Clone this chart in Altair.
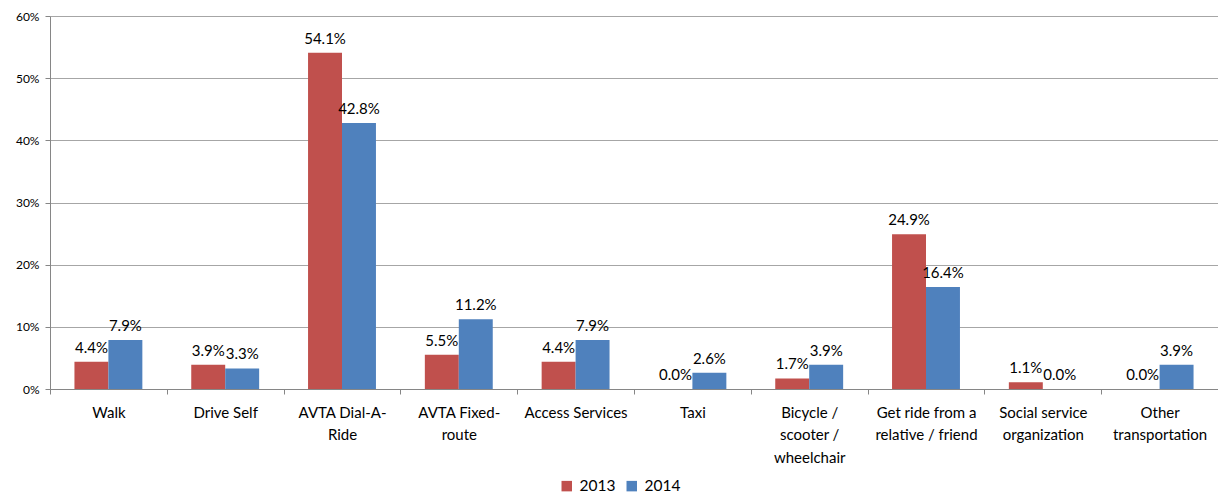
import altair as alt
import pandas as pd

categories = ["Walk", "Drive Self", "AVTA Dial-A-|Ride", "AVTA Fixed-|route",
              "Access Services", "Taxi", "Bicycle /|scooter /|wheelchair",
              "Get ride from a|relative / friend", "Social service|organization",
              "Other|transportation"]
years = ["2013", "2014"]
vals_2013 = [4.4, 3.9, 54.1, 5.5, 4.4, 0.0, 1.7, 24.9, 1.1, 0.0]
vals_2014 = [7.9, 3.3, 42.8, 11.2, 7.9, 2.6, 3.9, 16.4, 0.0, 3.9]

rows = []
for c, a, b in zip(categories, vals_2013, vals_2014):
    rows.append({"cat": c, "year": "2013", "v": a / 100})
    rows.append({"cat": c, "year": "2014", "v": b / 100})
df = pd.DataFrame(rows)

FONT = "Lato"
color = alt.Color("year:N", scale=alt.Scale(domain=years, range=["#C0504D", "#4F81BD"]),
                  legend=alt.Legend(title=None, orient="none", direction="horizontal",
                                    legendX=509, legendY=462, symbolType="square",
                                    symbolSize=110, symbolStrokeWidth=0,
                                    labelFontSize=15.5, labelFont=FONT, labelColor="#000",
                                    columnPadding=8, labelOffset=5))

x = alt.X("cat:N", sort=categories, title=None,
          scale=alt.Scale(paddingInner=0, paddingOuter=0),
          axis=alt.Axis(labelExpr="split(datum.label, '|')", labelAngle=0,
                        labelFontSize=15, labelFont=FONT, labelColor="#000",
                        labelPadding=11, labelLineHeight=22.5, tickBand="extent",
                        tickColor="#868686", domainColor="#868686", tickSize=5,
                        labelBaseline="top"))
xo = alt.XOffset("year:N", scale=alt.Scale(paddingOuter=0.72, paddingInner=0))
y = alt.Y("v:Q", title=None, scale=alt.Scale(domain=[0, 0.6]),
          axis=alt.Axis(format=".0%", values=[0, .1, .2, .3, .4, .5, .6],
                        labelFontSize=12, labelFont=FONT, labelColor="#000",
                        gridColor="#A6A6A6", domainColor="#868686", tickColor="#868686",
                        tickSize=5, labelPadding=6))

bars = alt.Chart(df).mark_bar().encode(x=x, xOffset=xo, y=y, color=color)
text = alt.Chart(df).mark_text(baseline="bottom", dy=-6, font=FONT, fontSize=15,
                               color="#000").encode(
    x=x, xOffset=xo, y=y, text=alt.Text("v:Q", format=".1%"))

chart = (bars + text).properties(
    width=1168, height=373,
    autosize=alt.AutoSizeParams(type="none"),
    padding={"left": 42, "top": 8, "right": 0, "bottom": 106},
).configure_view(stroke=None)

chart.save("out.html", embed_options={"renderer": "svg", "actions": False})
